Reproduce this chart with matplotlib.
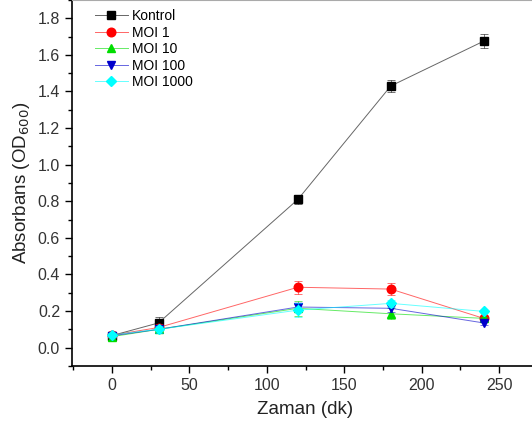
import matplotlib
matplotlib.use("Agg")
import matplotlib.pyplot as plt
from matplotlib.colors import to_rgba
from matplotlib.ticker import MultipleLocator

plt.rcParams['font.family'] = ['Liberation Sans', 'DejaVu Sans']

# data
zaman = [0, 30, 120, 180, 240]
kontrol = [0.066, 0.135, 0.81, 1.43, 1.675]
kontrol_err = [0.015, 0.03, 0.025, 0.035, 0.04]
moi1 = [0.068, 0.11, 0.33, 0.32, 0.16]
moi1_err = [0.01, 0.02, 0.035, 0.035, 0.01]
moi10 = [0.06, 0.10, 0.215, 0.185, 0.16]
moi10_err = [0.01, 0.02, 0.04, 0.03, 0.01]
moi100 = [0.065, 0.10, 0.222, 0.215, 0.135]
moi100_err = [0.01, 0.02, 0.02, 0.02, 0.01]
moi1000 = [0.07, 0.10, 0.205, 0.242, 0.198]
moi1000_err = [0.01, 0.02, 0.04, 0.02, 0.01]

series = [
    ("Kontrol", kontrol, kontrol_err, "black", "s"),
    ("MOI 1", moi1, moi1_err, "red", "o"),
    ("MOI 10", moi10, moi10_err, "#00dd00", "^"),
    ("MOI 100", moi100, moi100_err, "#0000cc", "v"),
    ("MOI 1000", moi1000, moi1000_err, "cyan", "D"),
]

fig = plt.figure(figsize=(5.32, 4.30), dpi=100)
ax = fig.add_axes([0.135, 0.149, 0.876, 0.851])

handles = []
for name, y, err, col, mk in series:
    ms = 5.2 if mk == "D" else 6.2
    ax.errorbar(zaman, y, yerr=err, fmt='none', ecolor=to_rgba(col, 0.55),
                elinewidth=0.7, capsize=3, capthick=0.7)
    h, = ax.plot(zaman, y, color=to_rgba(col, 0.6), linewidth=0.7, marker=mk,
                 markersize=ms, markerfacecolor=col, markeredgecolor=col,
                 label=name)
    handles.append(h)

ax.set_xlim(-26, 275)
ax.set_ylim(-0.1, 1.9)
ax.set_xticks([0, 50, 100, 150, 200, 250])
ax.xaxis.set_minor_locator(MultipleLocator(25))
ax.set_yticks([0.0, 0.2, 0.4, 0.6, 0.8, 1.0, 1.2, 1.4, 1.6, 1.8])
ax.yaxis.set_minor_locator(MultipleLocator(0.1))
ax.yaxis.set_major_formatter(plt.FormatStrFormatter('%.1f'))
ax.tick_params(which='major', direction='out', length=5, width=1, labelsize=11.5,
               colors='black', labelcolor='#333333')
ax.tick_params(which='minor', direction='out', length=3, width=1)

ax.spines['right'].set_visible(False)
ax.spines['top'].set_color('#aaaaaa')
ax.spines['left'].set_linewidth(1.2)
ax.spines['bottom'].set_linewidth(1.2)

ax.set_xlabel("Zaman (dk)", fontsize=13.5, color='#222222', labelpad=6)
ax.set_ylabel("Absorbans (OD$_{600}$)", fontsize=13.5, color='#222222')

ax.legend(handles=handles, loc='upper left', frameon=False, fontsize=10,
          handlelength=2.4, borderaxespad=0.25, labelspacing=0.18,
          handletextpad=0.3, bbox_to_anchor=(0.03, 1.0))

fig.savefig("out.png", dpi=100)
